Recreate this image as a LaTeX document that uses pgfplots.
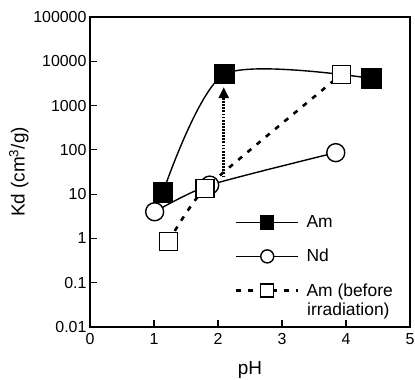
\documentclass[border=0pt]{standalone}
\usepackage{fontspec}
\setmainfont{Liberation Sans}
\usepackage{pgfplots}
\pgfplotsset{compat=1.18}
\usetikzlibrary{arrows.meta}
\begin{document}
\begin{tikzpicture}
\begin{axis}[
 name=ax,
 scale only axis, width=320bp, height=310bp,
 xmin=0, xmax=5, ymin=0.01, ymax=100000, ymode=log,
 xtick={0,1,2,3,4,5},
 ytick={0.01,0.1,1,10,100,1000,10000,100000},
 yticklabels={0.01,0.1,1,10,100,1000,10000,100000},
 yminorticks=false,
 tick pos=left, tick align=inside, major tick length=7bp,
 axis line style={line width=1.4bp},
 tick style={line width=1.1bp, black},
 ticklabel style={font=\fontsize{16}{19}\selectfont},
 x tick label style={yshift=-3bp},
 /pgf/number format/assume math mode=true,
 xlabel={pH}, ylabel={Kd (cm\textsuperscript{3}/g)},
 label style={font=\fontsize{19}{22}\selectfont},
 xlabel style={yshift=-10bp},
 ylabel style={yshift=-2bp},
 legend style={draw=none, fill=none, at={(rel axis cs:0.443,0.372)}, anchor=north west,
   font=\fontsize{17.5}{20}\selectfont, cells={anchor=west}, row sep=16bp,
   /tikz/every odd column/.append style={column sep=5bp}},
 legend image code/.code={\draw[mark repeat=2, mark phase=2, #1, mark size=6.5bp] plot coordinates {(0bp,0bp)(31bp,0bp)(62bp,0bp)};},
]
\addplot[line width=2.6bp, dash pattern=on 1.8bp off 1.3bp, -{Triangle[width=10bp,length=11bp]}, forget plot]
  coordinates {(2.09,24) (2.09,2600)};
\addplot[black, line width=1.4bp, smooth, tension=0.45, mark=square*, mark size=9.5bp, mark options={solid, fill=black}]
  coordinates {(1.14,11) (2.10,5100) (4.40,4090)};
\addlegendentry{Am}
\addplot[black, line width=1.4bp, smooth, tension=0.4, mark=*, mark size=9bp, mark options={solid, fill=white}]
  coordinates {(1.01,4.0) (1.87,16) (3.84,86.5)};
\addlegendentry{Nd}
\addplot[black, line width=2.6bp, dash pattern=on 5bp off 7bp, smooth, tension=0.3, mark=square*, mark size=9bp, mark options={solid, fill=white, line width=1.4bp}]
  coordinates {(1.23,0.865) (1.80,13.5) (3.93,5090)};
\addlegendentry{Am (before}
\node[anchor=west, inner sep=0pt, font=\fontsize{17.5}{20}\selectfont] at (axis cs:3.39,0.0225) {irradiation)};
\end{axis}
\pgfresetboundingbox
\path[use as bounding box] (ax.south west) ++(-90bp,-53bp) rectangle ++(415bp,380bp);
\end{tikzpicture}
\end{document}
